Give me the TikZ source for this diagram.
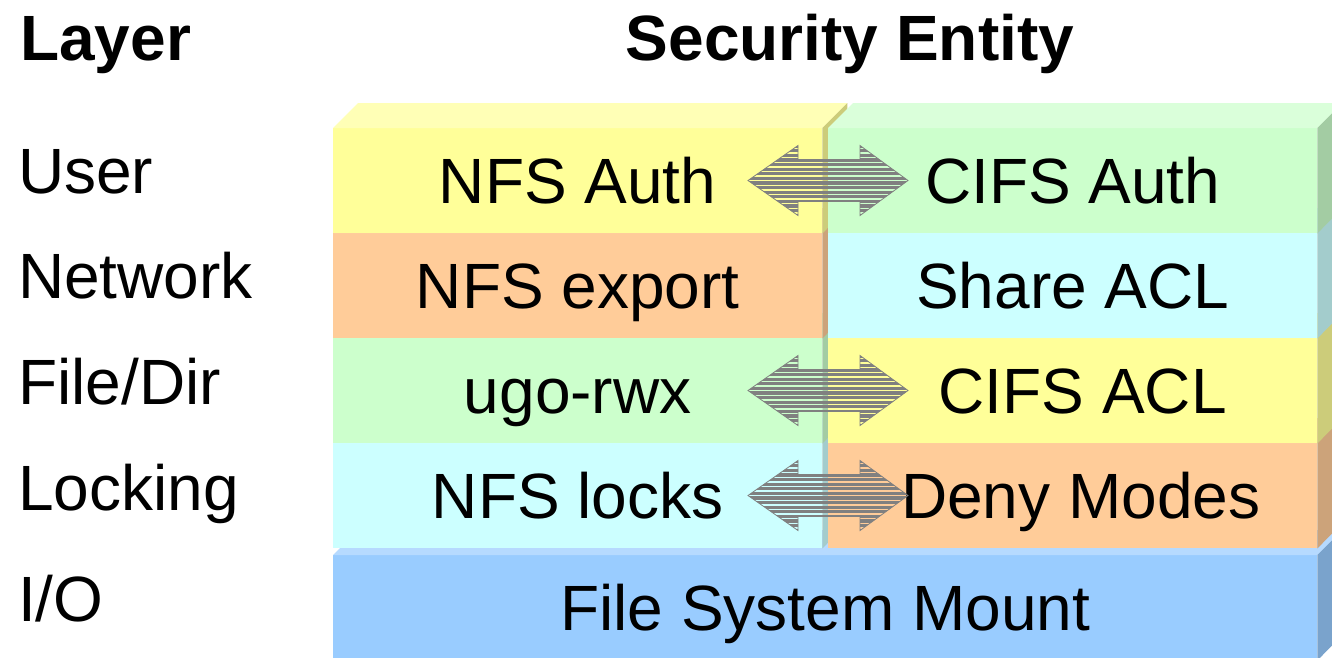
\documentclass[tikz,border=0pt]{standalone}
\usepackage{fontspec}
\setmainfont{Liberation Sans}
\usetikzlibrary{calc}

\definecolor{cYel}{HTML}{FFFF99}
\definecolor{cGrn}{HTML}{CCFFCC}
\definecolor{cCyn}{HTML}{CCFFFF}
\definecolor{cOrg}{HTML}{FFCC99}
\definecolor{cBlu}{HTML}{99CCFF}
\definecolor{arrowgray}{HTML}{808080}

\tikzset{
  face/.style={draw=none, inner sep=0pt, anchor=north west,
    font=\fontsize{64}{76}\selectfont, text height=46pt, text depth=0pt},
  lbl/.style={inner sep=0pt, anchor=base west, font=\fontsize{64}{76}\selectfont},
  hdr/.style={inner sep=0pt, font=\fontsize{64}{76}\selectfont\bfseries},
}

% 3-D slab: #1 name, #2 x, #3 y (top-left of front face), #4 width, #5 height, #6 colour, #7 text
\newcommand\slab[7]{%
  \node[face, fill=#6, minimum width=#4pt, minimum height=#5pt] (#1) at (#2,#3) {#7};
  \fill[#6!72!white] (#1.north west) -- ++(25,-25) -- ($(#1.north east)+(25,-25)$)
    -- (#1.north east) -- cycle;
  \fill[#6!80!black] (#1.north east) -- ++(25,-25) -- ++(0,#5) -- (#1.south east) -- cycle;
}

% striped double block arrow centred on a named coordinate
\newcommand\twoway[1]{%
  \begin{scope}[shift={(#1)}]
    \begin{scope}
      \clip (-80,0) -- (-30,-35) -- (-30,-21) -- (32,-21) -- (32,-35) -- (80,0)
        -- (32,35) -- (32,21) -- (-30,21) -- (-30,35) -- cycle;
      \foreach \k in {0,...,15}
        \fill[arrowgray] (-82,{-36+\k*4.6}) rectangle (82,{-36+\k*4.6+3.3});
    \end{scope}
    \draw[arrowgray, line width=0.8pt, line join=miter]
      (-80,0) -- (-30,-35) -- (-30,-21) -- (32,-21) -- (32,-35) -- (80,0)
      -- (32,35) -- (32,21) -- (-30,21) -- (-30,35) -- cycle;
  \end{scope}
}

\begin{document}
\begin{tikzpicture}[x=1pt, y=-1pt]
  \useasboundingbox (0,0) rectangle (1332,657);
  \clip (0,0) rectangle (1332,657);

  % I/O layer
  \slab{fsmount}{333}{555}{984}{105}{cBlu}{File System Mount}
  % Locking layer
  \slab{nfslocks}{333}{443}{489}{105}{cCyn}{NFS locks}
  \slab{denymodes}{828}{443}{489}{105}{cOrg}{\hspace*{16pt}Deny Modes}
  % File/Dir layer
  \slab{ugorwx}{333}{338}{489}{105}{cGrn}{ugo-rwx}
  \slab{cifsacl}{828}{338}{489}{105}{cYel}{\hspace*{20pt}CIFS ACL}
  % Network layer
  \slab{nfsexport}{333}{233}{489}{105}{cOrg}{NFS export}
  \slab{shareacl}{828}{233}{489}{105}{cCyn}{Share ACL}
  % User layer
  \slab{nfsauth}{333}{128}{489}{105}{cYel}{NFS Auth}
  \slab{cifsauth}{828}{128}{489}{105}{cGrn}{CIFS Auth}

  % equivalence arrows across the two columns
  \coordinate (auth) at (828,180.5);
  \coordinate (acl)  at (828,390.5);
  \coordinate (lock) at (828,495.5);
  \twoway{auth}
  \twoway{acl}
  \twoway{lock}

  % headings
  \node[hdr, anchor=base west] (hlayer) at (20,60) {Layer};
  \node[hdr, anchor=base] (hentity) at (850,60) {Security Entity};

  % layer names
  \node[lbl] (luser) at (18,193) {User};
  \node[lbl] (lnet)  at (18,298) {Network};
  \node[lbl] (lfile) at (18,404) {File/Dir};
  \node[lbl] (llock) at (18,510) {Locking};
  \node[lbl] (lio)   at (18,621) {I/O};
\end{tikzpicture}
\end{document}
